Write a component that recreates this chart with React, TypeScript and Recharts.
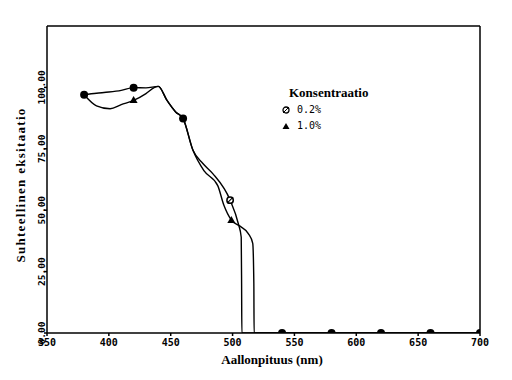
import React from 'react'
import {
  ComposedChart,
  Line,
  Scatter,
  XAxis,
  YAxis,
  ReferenceLine,
} from 'recharts'

// Curve for 0.2 % (wavelength nm, relative excitation)
const curve02 = [
  { nm: 380, v: 97 },
  { nm: 390, v: 97.6 },
  { nm: 400, v: 98.1 },
  { nm: 410, v: 98.8 },
  { nm: 420, v: 99.9 },
  { nm: 430, v: 99.8 },
  { nm: 440, v: 100.4 },
  { nm: 447, v: 94.7 },
  { nm: 454, v: 90 },
  { nm: 460, v: 87.3 },
  { nm: 468, v: 74.4 },
  { nm: 476, v: 69 },
  { nm: 484, v: 64.9 },
  { nm: 498, v: 54.1 },
  { nm: 504.6, v: 44.6 },
  { nm: 507, v: 39 },
  { nm: 507.3, v: 20 },
  { nm: 507.5, v: 0 },
  { nm: 540, v: 0 },
  { nm: 700, v: 0 },
]

// Curve for 1.0 %
const curve10 = [
  { nm: 380, v: 97 },
  { nm: 390, v: 92.5 },
  { nm: 401, v: 91.3 },
  { nm: 410, v: 93 },
  { nm: 420, v: 94.7 },
  { nm: 430, v: 97.5 },
  { nm: 437, v: 100 },
  { nm: 440, v: 100.4 },
  { nm: 447, v: 94.7 },
  { nm: 454, v: 90 },
  { nm: 460, v: 87.3 },
  { nm: 468, v: 74.4 },
  { nm: 477, v: 66 },
  { nm: 488, v: 60 },
  { nm: 493, v: 52 },
  { nm: 499, v: 46 },
  { nm: 506, v: 43.5 },
  { nm: 512.7, v: 40.5 },
  { nm: 516.3, v: 36.5 },
  { nm: 517.2, v: 20 },
  { nm: 517.4, v: 0 },
  { nm: 700, v: 0 },
]

// measured points
const sharedMarks = [
  { nm: 380, v: 97 },
  { nm: 420, v: 99.9 },
  { nm: 460, v: 87.3 },
  { nm: 540, v: 0 },
  { nm: 580, v: 0 },
  { nm: 620, v: 0 },
  { nm: 660, v: 0 },
  { nm: 700, v: 0 },
]
const marks02 = [{ nm: 498, v: 54.1 }]
const marks10 = [
  { nm: 420, v: 94.9 },
  { nm: 499, v: 46 },
]

const xTicks = [350, 400, 450, 500, 550, 600, 650, 700]
const yTicks = [0, 25, 50, 75, 100]

const mono = '"DejaVu Sans Mono", monospace'
const serif = '"Liberation Serif", "DejaVu Serif", serif'

const Dot = (p: any) => <circle cx={p.cx} cy={p.cy} r={4} fill="#000" />

const CircleMark = (p: any) => (
  <g>
    <circle cx={p.cx} cy={p.cy} r={3.2} fill="#fff" stroke="#000" strokeWidth={1.5} />
    <line x1={p.cx - 3} y1={p.cy + 3} x2={p.cx + 3} y2={p.cy - 3} stroke="#000" strokeWidth={1.2} />
  </g>
)

const TriMark = (p: any) => (
  <path d={`M${p.cx},${p.cy - 4} L${p.cx + 4},${p.cy + 3} L${p.cx - 4},${p.cy + 3} Z`} fill="#000" />
)

const XTick = ({ x, y, payload }: any) => (
  <text x={x} y={y + 8} textAnchor="middle" fontFamily={mono} fontWeight="bold" fontSize={10} fill="#000">
    {payload.value}
  </text>
)

const YTick = ({ x, y, payload }: any) => (
  <text
    x={x + 3}
    y={y}
    transform={`rotate(-90 ${x + 3} ${y})`}
    textAnchor="middle"
    fontFamily={mono}
    fontWeight="bold"
    fontSize={9.5}
    fill="#000"
  >
    {payload.value.toFixed(2)}
  </text>
)

export default function App() {
  return (
    <div style={{ position: 'relative', width: 504, height: 372, background: '#fff' }}>
      <ComposedChart width={504} height={372} margin={{ top: 18, right: 32, left: 9, bottom: 17 }}>
        <XAxis
          dataKey="nm"
          type="number"
          domain={[350, 700]}
          ticks={xTicks}
          tick={<XTick />}
          height={30}
          tickSize={3}
          stroke="#000"
          strokeWidth={1.5}
          allowDataOverflow
        />
        <YAxis
          type="number"
          domain={[0, 125]}
          ticks={yTicks}
          tick={<YTick />}
          width={30}
          tickSize={3}
          stroke="#000"
          strokeWidth={1.5}
          allowDataOverflow
        />
        <ReferenceLine y={125} stroke="#000" strokeWidth={1.5} />
        <ReferenceLine x={700} stroke="#000" strokeWidth={1.5} />
        <Line data={curve02} dataKey="v" type="monotone" stroke="#000" strokeWidth={1.4} dot={false} isAnimationActive={false} />
        <Line data={curve10} dataKey="v" type="monotone" stroke="#000" strokeWidth={1.4} dot={false} isAnimationActive={false} />
        <Scatter data={sharedMarks} dataKey="v" shape={<Dot />} isAnimationActive={false} />
        <Scatter data={marks02} dataKey="v" shape={<CircleMark />} isAnimationActive={false} />
        <Scatter data={marks10} dataKey="v" shape={<TriMark />} isAnimationActive={false} />
      </ComposedChart>

      <div
        style={{
          position: 'absolute',
          left: 199,
          top: 345,
          width: 130,
          textAlign: 'center',
          fontFamily: serif,
          fontWeight: 'bold',
          fontSize: 13,
          lineHeight: '14px',
        }}
      >
        Aallonpituus (nm)
      </div>
      <div
        style={{
          position: 'absolute',
          left: 13 - 100,
          top: 170,
          width: 200,
          textAlign: 'center',
          transform: 'rotate(-90deg)',
          fontFamily: serif,
          fontWeight: 'bold',
          fontSize: 13,
          letterSpacing: 1.3,
          lineHeight: '14px',
        }}
      >
        Suhteellinen eksitaatio
      </div>

      <div style={{ position: 'absolute', left: 281, top: 78, fontFamily: serif, fontWeight: 'bold', fontSize: 13, lineHeight: '14px' }}>
        Konsentraatio
      </div>
      <div style={{ position: 'absolute', left: 273, top: 95, fontFamily: mono, fontSize: 10, lineHeight: '14px', display: 'flex', alignItems: 'center' }}>
        <svg width={10} height={10}>
          <circle cx={5} cy={5} r={3} fill="none" stroke="#000" strokeWidth={1.3} />
          <line x1={2} y1={8} x2={8} y2={2} stroke="#000" strokeWidth={1} />
        </svg>
        <span style={{ marginLeft: 6 }}>0.2%</span>
      </div>
      <div style={{ position: 'absolute', left: 273, top: 111, fontFamily: mono, fontSize: 10, lineHeight: '14px', display: 'flex', alignItems: 'center' }}>
        <svg width={10} height={10}>
          <path d="M5,2 L8.5,8 L1.5,8 Z" fill="#000" />
        </svg>
        <span style={{ marginLeft: 6 }}>1.0%</span>
      </div>
    </div>
  )
}
